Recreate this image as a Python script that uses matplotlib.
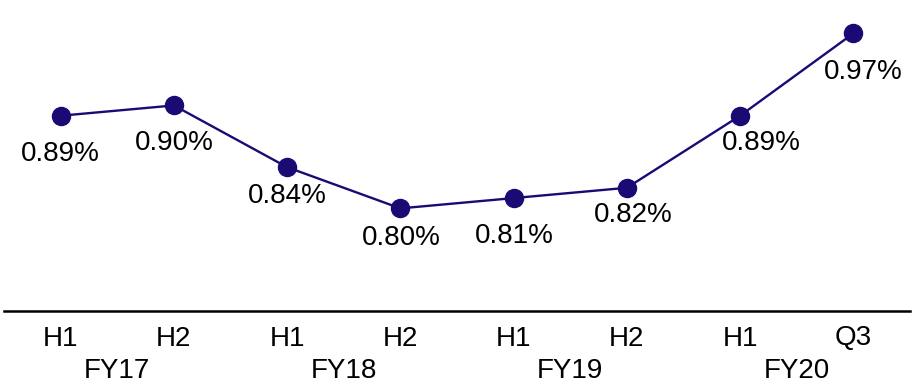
import matplotlib
matplotlib.use("Agg")
import matplotlib.pyplot as plt

# Ratio by reporting period
periods = ["H1", "H2", "H1", "H2", "H1", "H2", "H1", "Q3"]
fiscal_years = ["FY17", "FY18", "FY19", "FY20"]
values = [0.89, 0.90, 0.84, 0.80, 0.81, 0.82, 0.89, 0.97]

# Per-point label offsets (pixels, right / down from the marker)
label_offsets = [(0, 38), (0, 38), (0, 29), (1, 30), (1, 38), (6, 27), (21, 27), (10, 39)]

plt.rcParams["font.family"] = ["Liberation Sans", "DejaVu Sans"]

DPI = 100
fig = plt.figure(figsize=(9.17, 3.90), dpi=DPI)
ax = fig.add_axes([4 / 917, (390 - 311.3) / 390, 906 / 917, 308.8 / 390])

line_color = "#1a0a73"
x = list(range(len(values)))
ax.plot(x, values, color=line_color, linewidth=1.7, marker="o",
        markersize=13, markerfacecolor=line_color, markeredgecolor=line_color,
        zorder=3, clip_on=False)

px = 72 / DPI  # pixels -> points
for xi, v, (dx, dy) in zip(x, values, label_offsets):
    ax.annotate(f"{v:.2f}%", xy=(xi, v), xytext=(dx * px, -dy * px),
                textcoords="offset points", ha="center", va="center",
                fontsize=20, color="black")

ax.set_xlim(-0.5, len(values) - 0.5)
ax.set_ylim(0.70, 1.00)

for s in ("top", "left", "right"):
    ax.spines[s].set_visible(False)
ax.spines["bottom"].set_linewidth(1.8)
ax.spines["bottom"].set_color("black")
ax.set_xticks([])
ax.set_yticks([])

# Period labels and fiscal-year group labels under the axis
for xi, p in zip(x, periods):
    ax.annotate(p, xy=(xi, 0), xycoords=("data", "axes fraction"),
                xytext=(0, -27.2 * px), textcoords="offset points",
                ha="center", va="center", fontsize=20, color="black")
for i, fy in enumerate(fiscal_years):
    ax.annotate(fy, xy=(2 * i + 0.5, 0), xycoords=("data", "axes fraction"),
                xytext=(0, -60.2 * px), textcoords="offset points",
                ha="center", va="center", fontsize=20, color="black")

fig.savefig("out.png", dpi=DPI)
